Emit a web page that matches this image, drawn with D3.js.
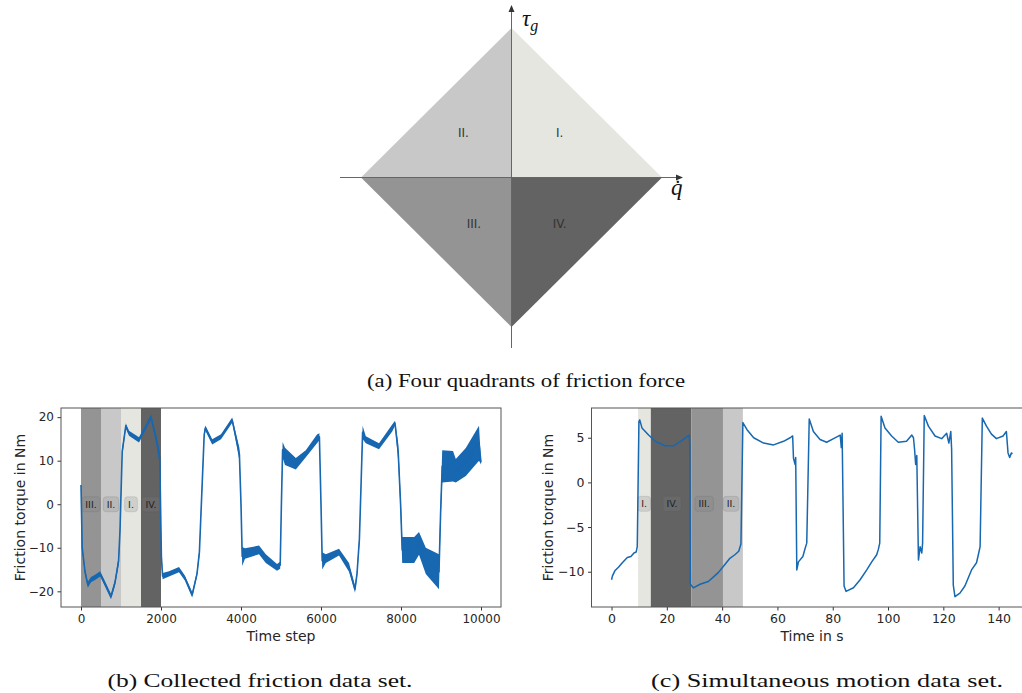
<!DOCTYPE html>
<html>
<head>
<meta charset="utf-8">
<script src="https://d3js.org/d3.v7.min.js"></script>
<style>
body { margin: 0; background: #fff; }
text { font-family: "DejaVu Sans", sans-serif; fill: #262626; }
.cap { font-family: "Liberation Serif", serif; fill: #111; }
.math { font-family: "Liberation Serif", serif; font-style: italic; fill: #111; }
</style>
</head>
<body>
<div id="chart"></div>
<script>
// ---- (a) quadrants ----
var quadLabels = ["I.", "II.", "III.", "IV."];
var quadColors = ["#e6e6e1", "#c8c8c8", "#949494", "#636363"];
var quadSigns = [[1, 1], [-1, 1], [-1, -1], [1, -1]];
var quadLabelPos = [[0.32, 0.30], [-0.32, 0.30], [-0.25, -0.31], [0.32, -0.31]];

// ---- (b) collected friction data set ----
var bBandStart = [0, 500, 1000, 1500];
var bBandEnd = [500, 1000, 1500, 2000];
var bBandLabels = ["III.", "II.", "I.", "IV."];
var bBandColors = ["#949494", "#c8c8c8", "#e6e6e1", "#636363"];
var bXTicks = [0, 2000, 4000, 6000, 8000, 10000];
var bYTicks = [-20, -10, 0, 10, 20];
var bT = [0, 30, 100, 170, 250, 350, 480, 600, 750, 850, 940, 975, 1030, 1120, 1200, 1450, 1750, 1880, 1970, 2010,
  2040, 2200, 2450, 2600, 2780, 2900, 2960, 3000, 3080, 3110, 3280, 3500, 3780, 3880, 3960, 4000, 4030, 4100, 4450, 4620,
  4900, 4980, 5010, 5040, 5100, 5370, 5620, 5900, 5960, 6000, 6030, 6120, 6450, 6700, 6850, 6900, 6960, 7000, 7040, 7120,
  7450, 7780, 7850, 7930, 7990, 8030, 8330, 8450, 8620, 8950, 8990, 9030, 9300, 9370, 9620, 9950, 10000];
var bMid = [4.4, -10, -15.5, -18.5, -17.3, -16.8, -16, -18.3, -21.2, -18, -13, -6, 12, 18, 16.3, 14.8, 20, 15, 10.5, -12,
  -16.5, -16, -15, -17, -20.8, -16, -11, -2, 16, 17.5, 14.3, 15.5, 19.3, 15, 11.5, 0, -12, -11.3, -10.5, -12.5,
  -14.5, -14, 0, 12.5, 11, 9.3, 11.6, 15, 15.5, 0, -13, -12.5, -11, -14.5, -19.5, -16, -8, 4, 16.5, 14.8,
  13.3, 17.5, 18.6, 12, 0, -10.5, -10.5, -9, -13, -15.5, -2, 8.7, 8.7, 7.7, 9.7, 14, 9.6];
var bHalf = [0.3, 0.5, 0.6, 0.7, 0.6, 0.6, 0.6, 0.6, 0.6, 0.7, 1, 1, 1, 0.6, 0.6, 0.6, 0.6, 1, 1.5, 1.5,
  0.7, 0.6, 0.6, 0.6, 0.6, 0.6, 1, 1, 1, 0.6, 0.6, 0.6, 0.6, 1, 1.5, 1, 2.2, 1.2, 1, 1,
  0.8, 0.8, 1, 1.8, 2, 1.3, 0.8, 1, 0.8, 1, 2, 1, 0.8, 1, 0.8, 0.8, 1, 1, 1.5, 0.8,
  0.7, 0.8, 0.6, 2, 2, 3, 3, 2.6, 3, 4, 2, 3.7, 3.5, 2.7, 3.2, 4, 0.5];

// ---- (c) simultaneous motion data set ----
var cBandStart = [9.6, 14.2, 28.9, 40.3];
var cBandEnd = [14.2, 28.9, 40.3, 47.5];
var cBandLabels = ["I.", "IV.", "III.", "II."];
var cBandColors = ["#e6e6e1", "#636363", "#949494", "#c8c8c8"];
var cLabelT = [11.8, 21.9, 33.5, 43.2];
var cXTicks = [0, 20, 40, 60, 80, 100, 120, 140];
var cYTicks = [-10, -5, 0, 5];
var cT = [0, 0.3, 1.2, 2.5, 3.9, 5.7, 7.0, 8.1, 8.9, 9.3, 9.9, 10.2, 11.0, 13.4, 15.8, 19.4, 22.4, 25.5, 28.1, 28.3,
  28.5, 29.6, 32.0, 35.0, 38.6, 41.0, 42.8, 44.6, 46.0, 46.8, 47.5, 49.0, 51.4, 55.0, 58.6, 62.2, 64.6, 65.5, 65.8, 66.4,
  66.6, 67.0, 67.6, 69.2, 70.0, 70.6, 71.5, 73.0, 75.4, 77.8, 80.3, 82.7, 83.1, 83.4, 84.1, 84.8, 87.5, 89.9, 92.3, 94.1,
  95.9, 96.5, 97.0, 97.5, 98.9, 101.3, 103.7, 106.7, 108.6, 109.2, 109.6, 110.0, 110.4, 111.0, 111.6, 112.2, 112.5, 113.1, 114.6, 117.0,
  119.4, 121.2, 122.0, 122.7, 123.0, 123.6, 124.2, 126.0, 127.8, 130.2, 132.0, 132.8, 133.3, 134.1, 135.6, 137.4, 139.2, 141.6, 142.8, 143.4,
  144.0, 144.6, 145.0];
var cV = [-10.9, -10.5, -9.9, -9.5, -9.0, -8.4, -8.3, -7.9, -7.8, -7.2, 6.8, 7.0, 6.1, 5.3, 4.6, 4.1, 4.1, 4.7, 5.3, 4.2,
  -11.4, -11.8, -11.4, -11.1, -10.1, -9.2, -8.5, -8.1, -7.7, -6.9, 6.7, 5.9, 5.0, 4.4, 4.2, 4.6, 5.0, 5.2, 2.7, 2.0,
  2.8, -9.8, -8.9, -8.3, -7.4, -6.8, 7.1, 5.7, 4.8, 4.5, 4.9, 5.3, 3.9, 5.5, -11.6, -12.2, -11.8, -10.9, -9.8, -8.9,
  -8.1, -7.5, -6.8, 7.4, 6.1, 5.2, 4.5, 4.6, 5.3, 5.0, 3.7, 2.0, 3.0, -8.7, -7.2, -7.9, -6.8, 7.5, 6.3, 5.2,
  4.9, 5.5, 4.4, 5.7, 3.7, -11.5, -12.8, -12.4, -11.6, -9.8, -9.0, -7.9, -7.2, 7.2, 6.3, 5.4, 4.9, 5.2, 5.7, 3.3,
  2.8, 3.3, 3.2];

var captions = ["(a) Four quadrants of friction force", "(b) Collected friction data set.", "(c) Simultaneous motion data set."];

var lineColor = "#1767b1";

var svg = d3.select("#chart").append("svg")
    .attr("width", 1022)
    .attr("height", 693);

// ================= (a) =================
var qx = d3.scaleLinear().domain([-1, 1]).range([361, 662]);
var qy = d3.scaleLinear().domain([-1, 1]).range([327, 28]);

var ga = svg.append("g");
ga.selectAll("polygon")
    .data(quadSigns)
    .enter().append("polygon")
    .attr("points", function(s) {
        return [[0, 0], [s[0], 0], [0, s[1]]].map(function(p) { return qx(p[0]) + "," + qy(p[1]); }).join(" ");
    })
    .attr("fill", function(s, i) { return quadColors[i]; });

ga.append("line").attr("x1", 340).attr("x2", 678).attr("y1", qy(0)).attr("y2", qy(0))
    .attr("stroke", "#666").attr("stroke-width", 1);
ga.append("line").attr("x1", qx(0)).attr("x2", qx(0)).attr("y1", 348).attr("y2", 10)
    .attr("stroke", "#666").attr("stroke-width", 1);
ga.append("path").attr("d", "M" + 683 + "," + qy(0) + " l-7,-3 l0,6 z").attr("fill", "#333");
ga.append("path").attr("d", "M" + qx(0) + "," + 5 + " l-3,7 l6,0 z").attr("fill", "#333");

ga.selectAll(".qlab")
    .data(quadLabels)
    .enter().append("text")
    .attr("class", "qlab")
    .attr("x", function(d, i) { return qx(quadLabelPos[i][0]); })
    .attr("y", function(d, i) { return qy(quadLabelPos[i][1]) + 4; })
    .attr("text-anchor", "middle")
    .attr("font-size", 12)
    .style("fill", "#333")
    .text(function(d) { return d; });

var tau = ga.append("text").attr("class", "math").attr("x", 522).attr("y", 26).attr("font-size", 23);
tau.append("tspan").text("τ");
tau.append("tspan").attr("font-size", 16).attr("dy", 5).text("g");
ga.append("text").attr("class", "math").attr("x", 671).attr("y", 195).attr("font-size", 23).text("q\u0307");

svg.append("text").attr("class", "cap").attr("x", 526).attr("y", 387)
    .attr("text-anchor", "middle").attr("font-size", 19)
    .attr("textLength", 318).attr("lengthAdjust", "spacingAndGlyphs")
    .text(captions[0]);

// ================= helper for panels =================
function drawPanel(opt) {
    var g = svg.append("g");
    var x = d3.scaleLinear().domain(opt.xDomain).range([opt.left, opt.right]);
    var y = d3.scaleLinear().domain(opt.yDomain).range([opt.bottom, opt.top]);

    g.append("defs").append("clipPath").attr("id", opt.id)
        .append("rect").attr("x", opt.left).attr("y", opt.top)
        .attr("width", opt.right - opt.left).attr("height", opt.bottom - opt.top);

    // shaded bands
    g.selectAll(".band")
        .data(opt.bandStart)
        .enter().append("rect")
        .attr("x", function(d) { return x(d); })
        .attr("y", opt.top)
        .attr("width", function(d, i) { return x(opt.bandEnd[i]) - x(d); })
        .attr("height", opt.bottom - opt.top)
        .attr("fill", function(d, i) { return opt.bandColors[i]; });

    // band labels with rounded boxes
    var labs = g.selectAll(".blab")
        .data(opt.bandLabels)
        .enter().append("g");
    labs.each(function(d, i) {
        var lg = d3.select(this);
        var t = lg.append("text")
            .attr("x", x(opt.labelX[i]))
            .attr("y", y(opt.labelY) + 3.5)
            .attr("text-anchor", "middle")
            .attr("font-size", 9.5)
            .style("fill", "#222")
            .text(d);
        var bb = t.node().getBBox();
        lg.insert("rect", "text")
            .attr("x", bb.x - 3.5).attr("y", y(opt.labelY) - 7.5)
            .attr("width", bb.width + 7).attr("height", 15)
            .attr("rx", 3)
            .attr("fill", "rgba(128,128,128,0.22)")
            .attr("stroke", "rgba(90,90,90,0.15)");
    });

    var cg = g.append("g").attr("clip-path", "url(#" + opt.id + ")");
    if (opt.half) {
        var area = d3.area()
            .x(function(d, i) { return x(opt.t[i]); })
            .y0(function(d, i) { return y(opt.v[i] - opt.half[i]); })
            .y1(function(d, i) { return y(opt.v[i] + opt.half[i]); });
        cg.append("path").datum(opt.t).attr("d", area).attr("fill", lineColor);
    }
    var line = d3.line()
        .x(function(d, i) { return x(opt.t[i]); })
        .y(function(d, i) { return y(opt.v[i]); });
    cg.append("path").datum(opt.t).attr("d", line)
        .attr("fill", "none").attr("stroke", lineColor)
        .attr("stroke-width", opt.lw).attr("stroke-linejoin", "round");

    // axes
    var fmt = d3.format("d");
    var xa = g.append("g").attr("transform", "translate(0," + opt.bottom + ")")
        .call(d3.axisBottom(x).tickValues(opt.xTicks).tickFormat(fmt).tickSizeOuter(0).tickSize(3.5).tickPadding(3.5));
    var ya = g.append("g").attr("transform", "translate(" + opt.left + ",0)")
        .call(d3.axisLeft(y).tickValues(opt.yTicks).tickFormat(fmt).tickSizeOuter(0).tickSize(3.5).tickPadding(3.5));
    [xa, ya].forEach(function(a) {
        a.select(".domain").remove();
        a.selectAll("line").attr("stroke", "#333");
        a.selectAll("text").attr("font-size", opt.tickFont).style("fill", "#262626")
            .attr("font-family", "DejaVu Sans");
    });

    g.append("rect").attr("x", opt.left).attr("y", opt.top)
        .attr("width", opt.right - opt.left).attr("height", opt.bottom - opt.top)
        .attr("fill", "none").attr("stroke", "#555").attr("stroke-width", 1);

    g.append("text").attr("x", (opt.left + opt.right) / 2).attr("y", 640.5)
        .attr("text-anchor", "middle").attr("font-size", 14).text(opt.xLabel);
    g.append("text").attr("transform", "translate(" + opt.yLabelX + "," + ((opt.top + opt.bottom) / 2) + ") rotate(-90)")
        .attr("text-anchor", "middle").attr("dy", "0.35em").attr("font-size", 14).text("Friction torque in Nm");

    svg.append("text").attr("class", "cap").attr("x", opt.capX).attr("y", 687)
        .attr("text-anchor", "middle").attr("font-size", 19)
        .attr("textLength", opt.capW).attr("lengthAdjust", "spacingAndGlyphs")
        .text(opt.caption);
}

drawPanel({
    id: "clipB", left: 61, right: 501, top: 408, bottom: 607,
    xDomain: [-500, 10500], yDomain: [-23.6, 22.1],
    bandStart: bBandStart, bandEnd: bBandEnd, bandColors: bBandColors, bandLabels: bBandLabels,
    labelX: bBandStart.map(function(d, i) { return (d + bBandEnd[i]) / 2; }), labelY: 0,
    t: bT, v: bMid, half: bHalf, lw: 1.6,
    xTicks: bXTicks, yTicks: bYTicks, tickFont: 12,
    xLabel: "Time step", yLabelX: 20,
    caption: captions[1], capX: 260, capW: 305
});

drawPanel({
    id: "clipC", left: 591.5, right: 1032.5, top: 408, bottom: 607,
    xDomain: [-7.25, 152.25], yDomain: [-13.95, 8.33],
    bandStart: cBandStart, bandEnd: cBandEnd, bandColors: cBandColors, bandLabels: cBandLabels,
    labelX: cLabelT, labelY: -2.4,
    t: cT, v: cV, half: null, lw: 1.5,
    xTicks: cXTicks, yTicks: cYTicks, tickFont: 12.5,
    xLabel: "Time in s", yLabelX: 548,
    caption: captions[2], capX: 827, capW: 352
});
</script>
</body>
</html>
